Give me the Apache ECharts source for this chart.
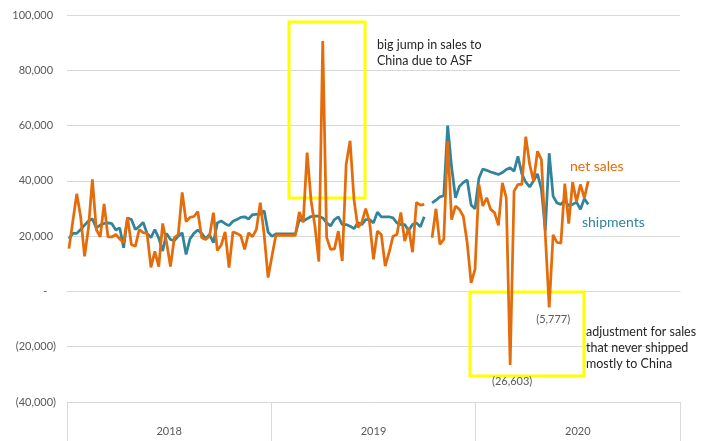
<!DOCTYPE html>
<html>
<head>
<meta charset="utf-8">
<script src="https://cdn.jsdelivr.net/npm/echarts@6/dist/echarts.min.js"></script>
<style>
html,body{margin:0;padding:0;background:#fff;}
#chart{width:708px;height:441px;}
</style>
</head>
<body>
<div id="chart"></div>
<script>
// ---- data ----
const years = ['2018', '2019', '2020'];
const weeksPerYear = [52, 52, 53];
const yTicks = [-40000, -20000, 0, 20000, 40000, 60000, 80000, 100000];

const netSales = [
  15500, 25500, 35300, 27000, 12700, 23000, 40500, 22400, 19700, 31700,
  19700, 19700, 20600, 19000, 17700, 26800, 17000, 16300, 22400, 21300,
  21000, 8700, 14500, 9000, 24600, 17700, 9000, 19500, 20600, 35800,
  25300, 26800, 27100, 28900, 19400, 18800, 20000, 28500, 14800, 16800,
  21500, 8600, 21500, 21000, 20200, 15200, 21200, 19800, 22400, 32100,
  20500, 5000, 12800, 20300, 20300, 20300, 20300, 20300, 20300, 28700,
  25000, 50200, 33000, 23600, 10800, 90600, 19500, 15200, 15400, 21800,
  11000, 46000, 54500, 33300, 23100, 25000, 30000, 25000, 11600, 21800,
  20600, 9200, 14100, 20000, 20600, 28600, 18200, 23100, 14200, 32200,
  31200, 31500, null, 19400, 29900, 17000, 18800, 54300, 26000, 30900,
  29700, 27200, 17600, 3100, 8000, 38700, 30900, 33900, 29700, 28500,
  23900, 39300, 33900, -26603, 36300, 38700, 38700, 56000, 45900, 39900,
  50700, 47700, 20600, -5777, 20500, 17700, 17500, 39000, 24500, 39500,
  32500, 38700, 33800, 39900
];

const shipments = [
  19000, 21000, 21000, 22400, 24000, 25500, 26300, 23000, 24000, 24600,
  24800, 24500, 22200, 23000, 15800, 26600, 26000, 22400, 23500, 25000,
  21000, 19500, 22400, 19300, 14600, 21000, 18800, 18400, 20000, 21200,
  13400, 19000, 21000, 22200, 21000, 19000, 20600, 17600, 24800, 25500,
  24500, 23800, 25400, 26000, 26800, 27000, 26200, 27800, 27900, 28000,
  29200, 21500, 19900, 20800, 20800, 20800, 20800, 20800, 20800, 26000,
  25500, 26300, 27100, 27200, 27200, 26600, 24800, 23700, 26000, 27000,
  24200, 24200, 23600, 22700, 24800, 24200, 26000, 26000, 24800, 28700,
  27000, 27000, 27000, 26600, 24800, 24200, 24200, 22000, 24200, 24800,
  23400, 27000, null, 32000, 33000, 34200, 34600, 60000, 45000, 33900,
  38000, 39400, 40300, 31300, 29900, 41000, 44300, 43800, 43200, 42800,
  42300, 43000, 44100, 44700, 43500, 48900, 42500, 39500, 37800, 40000,
  42500, 37000, 22000, 50000, 34500, 32000, 31500, 33000, 31000, 31500,
  32300, 29700, 33500, 31500
];

// ---- build weekly categories ----
const weeks = [];
years.forEach((y, k) => {
  for (let w = 1; w <= weeksPerYear[k]; w++) weeks.push(y + '-W' + String(w).padStart(2, '0'));
});

const fmtNum = v => Math.abs(v).toLocaleString('en-US');
const fmtAcct = v => v === 0 ? '-{t|  )}' : (v < 0 ? '(' + fmtNum(v) + ')' : fmtNum(v) + '{t|)}');

const ORANGE = '#E46C0A';
const TEAL = '#31849B';
const FONT = 'Lato';

const netData = netSales.map((v, i) => {
  if (v !== null && v < 0) {
    const big = v < -20000;
    return {
      value: v,
      symbol: 'circle',
      symbolSize: 2,
      itemStyle: {color: 'rgba(0,0,0,0)', borderWidth: 0},
      label: {
        show: true,
        position: 'bottom',
        distance: big ? 10 : 6,
        offset: big ? [2, 0] : [4, 0],
        formatter: () => '(' + fmtNum(v) + ')',
        color: '#595959',
        fontSize: 11,
        fontFamily: FONT
      }
    };
  }
  return {value: v, symbol: 'none'};
});

const chart = echarts.init(document.getElementById('chart'), null, {renderer: 'canvas'});
chart.setOption({
  animation: false,
  backgroundColor: '#ffffff',
  grid: {left: 67, right: 28, top: 15, bottom: 39, containLabel: false},
  xAxis: [
    {
      type: 'category',
      data: weeks,
      boundaryGap: true,
      axisLine: {show: true, lineStyle: {color: '#d9d9d9', width: 1}},
      axisTick: {show: false},
      axisLabel: {show: false},
      splitLine: {show: false}
    },
    {
      type: 'category',
      data: years,
      position: 'bottom',
      boundaryGap: true,
      axisLine: {show: false},
      axisTick: {show: true, interval: 0, length: 39, lineStyle: {color: '#d9d9d9', width: 1}},
      axisLabel: {show: true, interval: 0, margin: 24, color: '#595959', fontSize: 11, fontFamily: FONT},
      splitLine: {show: false}
    }
  ],
  yAxis: {
    type: 'value',
    min: yTicks[0],
    max: yTicks[yTicks.length - 1],
    interval: 20000,
    axisLine: {show: false},
    axisTick: {show: false},
    splitLine: {show: true, lineStyle: {color: '#d9d9d9', width: 1}},
    axisLabel: {
      margin: 11,
      color: '#595959',
      fontSize: 11,
      fontFamily: FONT,
      formatter: fmtAcct,
      rich: {t: {color: 'rgba(0,0,0,0)', fontSize: 11, fontFamily: FONT}}
    }
  },
  series: [
    {
      name: 'shipments',
      type: 'line',
      xAxisIndex: 0,
      data: shipments,
      showSymbol: false,
      symbol: 'none',
      connectNulls: false,
      lineStyle: {color: TEAL, width: 2.75},
      z: 3
    },
    {
      name: 'net sales',
      type: 'line',
      xAxisIndex: 0,
      data: netData,
      showSymbol: true,
      showAllSymbol: true,
      symbol: 'none',
      connectNulls: false,
      lineStyle: {color: ORANGE, width: 2.75},
      emphasis: {disabled: true},
      z: 4
    }
  ],
  graphic: [
    {type: 'rect', z: 1, shape: {x: 289, y: 22, width: 76, height: 176}, style: {fill: 'none', stroke: '#FFFF00', lineWidth: 3}},
    {type: 'rect', z: 1, shape: {x: 470, y: 292, width: 114, height: 84}, style: {fill: 'none', stroke: '#FFFF00', lineWidth: 3}},
    {type: 'text', z: 10, style: {x: 377, y: 37, text: 'big jump in sales to\nChina due to ASF', fill: '#262626', font: '12.5px ' + FONT, lineHeight: 16, verticalAlign: 'top'}},
    {type: 'text', z: 10, style: {x: 586, y: 324, text: 'adjustment for sales\nthat never shipped\nmostly to China', fill: '#262626', font: '12.5px ' + FONT, lineHeight: 16, verticalAlign: 'top'}},
    {type: 'text', z: 10, style: {x: 570, y: 166, text: 'net sales', fill: ORANGE, font: '14px ' + FONT, verticalAlign: 'middle'}},
    {type: 'text', z: 10, style: {x: 582, y: 222, text: 'shipments', fill: TEAL, font: '14px ' + FONT, verticalAlign: 'middle'}}
  ]
});
</script>
</body>
</html>
